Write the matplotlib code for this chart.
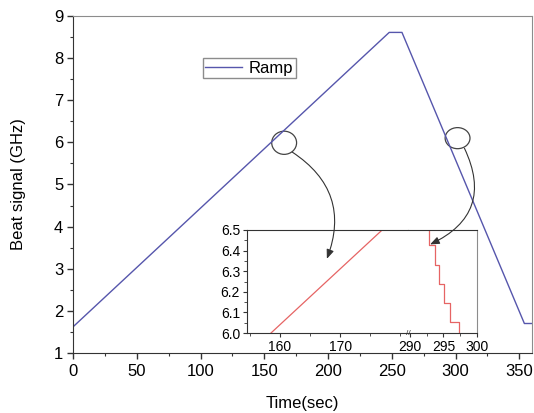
import matplotlib.pyplot as plt
from matplotlib.patches import Ellipse, ConnectionPatch
from matplotlib.ticker import MultipleLocator, FixedLocator

plt.rcParams['font.family'] = ['Liberation Sans', 'DejaVu Sans']

# Main ramp (time in sec, beat frequency in GHz)
ramp_t = [0, 248, 258, 354, 360]
ramp_f = [1.62, 8.61, 8.61, 1.70, 1.70]

# Inset: zoom on the rising part
rise_t = [150, 158.5, 177.0, 185]
rise_f = [5.77, 6.0, 6.5, 6.72]

# Inset: zoom on the falling part (staircase)
fall_t = [291.0, 292.1, 292.8, 293.7, 294.3, 295.1, 295.9, 297.3, 298.0]
fall_f = [6.60, 6.505, 6.427, 6.330, 6.236, 6.144, 6.055, 5.960, 5.960]

blue = '#5656ac'
red = '#e66464'
dark = '#333333'
gray = '#8c8c8c'

fig = plt.figure(figsize=(5.34, 4.13), dpi=100)
ax = fig.add_axes([0.1367, 0.1453, 0.8596, 0.816])

ax.plot(ramp_t, ramp_f, color=blue, lw=1.0, label='Ramp')
ax.set_xlim(0, 360)
ax.set_ylim(1, 9)
ax.xaxis.set_major_locator(MultipleLocator(50))
ax.xaxis.set_minor_locator(MultipleLocator(25))
ax.yaxis.set_major_locator(MultipleLocator(1))
ax.yaxis.set_minor_locator(MultipleLocator(0.5))
ax.tick_params(which='major', direction='out', length=4, width=1, labelsize=12, color=dark)
ax.tick_params(axis='x', which='major', pad=4)
ax.tick_params(axis='y', which='major', pad=3)
ax.tick_params(which='minor', direction='out', length=2.5, width=0.8, color=dark)
for side in ['left', 'bottom']:
    ax.spines[side].set_color(dark)
for side in ['top', 'right']:
    ax.spines[side].set_color(gray)
ax.set_xlabel('Time(sec)', fontsize=12)
ax.set_ylabel('Beat signal (GHz)', fontsize=12)
ax.xaxis.set_label_coords(0.5, -0.128)
ax.yaxis.set_label_coords(-0.102, 0.5)

leg = ax.legend(loc='upper left', bbox_to_anchor=(0.283, 0.875), borderaxespad=0,
                fancybox=False, fontsize=12, handlelength=2.2, borderpad=0.15,
                handletextpad=0.4)
leg.get_frame().set_edgecolor('#707070')
leg.get_frame().set_linewidth(1.0)

# Circles marking the zoomed regions
ax.add_patch(Ellipse((165.6, 5.99), 19.5, 0.55, fill=False, ec='#444444', lw=0.9))
ax.add_patch(Ellipse((301.6, 6.10), 19.5, 0.50, fill=False, ec='#444444', lw=0.9))

# Inset with broken x axis: two axes side by side
ax_l = fig.add_axes([0.4625, 0.1937, 0.3015, 0.2494])
ax_r = fig.add_axes([0.764, 0.1937, 0.1292, 0.2494])

ax_l.plot(rise_t, rise_f, color=red, lw=0.9)
ax_r.step(fall_t, fall_f, where='post', color=red, lw=0.9)

ax_l.set_xlim(154.5, 181.3)
ax_r.set_xlim(289.7, 300)
for a in [ax_l, ax_r]:
    a.set_ylim(6.0, 6.5)
    a.tick_params(which='major', direction='out', length=3, width=0.8, labelsize=10, pad=2, color=dark)
    a.tick_params(which='minor', direction='out', length=2, width=0.6, color=dark)
    a.spines['bottom'].set_color(dark)
    a.spines['top'].set_color(dark)

ax_l.xaxis.set_major_locator(FixedLocator([160, 170]))
ax_l.xaxis.set_minor_locator(FixedLocator([155, 165, 175, 180]))
ax_l.yaxis.set_major_locator(MultipleLocator(0.1))
ax_l.yaxis.set_minor_locator(MultipleLocator(0.05))
ax_l.yaxis.set_major_formatter('{x:.1f}')
ax_l.spines['left'].set_color(dark)
ax_l.spines['right'].set_visible(False)

ax_r.xaxis.set_major_locator(FixedLocator([290, 295, 300]))
ax_r.xaxis.set_minor_locator(FixedLocator([292.5, 297.5]))
ax_r.set_yticks([])
ax_r.spines['left'].set_visible(False)
ax_r.spines['right'].set_color(gray)
ax_r.text(0.0, 0.0, '//', transform=ax_r.transAxes, ha='center', va='center',
          fontsize=6, color=dark)

# Curved arrows from the circles to the inset
arrow_l = ConnectionPatch((171.9, 5.77), (167.8, 6.36), coordsA=ax.transData,
                          coordsB=ax_l.transData, arrowstyle='-|>,head_length=0.55,head_width=0.22',
                          connectionstyle='arc3,rad=-0.4', color='#333333', lw=0.8)
arrow_r = ConnectionPatch((307, 5.86), (293.0, 6.43), coordsA=ax.transData,
                          coordsB=ax_r.transData, arrowstyle='-|>,head_length=0.55,head_width=0.22',
                          connectionstyle='arc3,rad=-0.5', color='#333333', lw=0.8)
fig.add_artist(arrow_l)
fig.add_artist(arrow_r)

fig.savefig('out.png', dpi=100)
